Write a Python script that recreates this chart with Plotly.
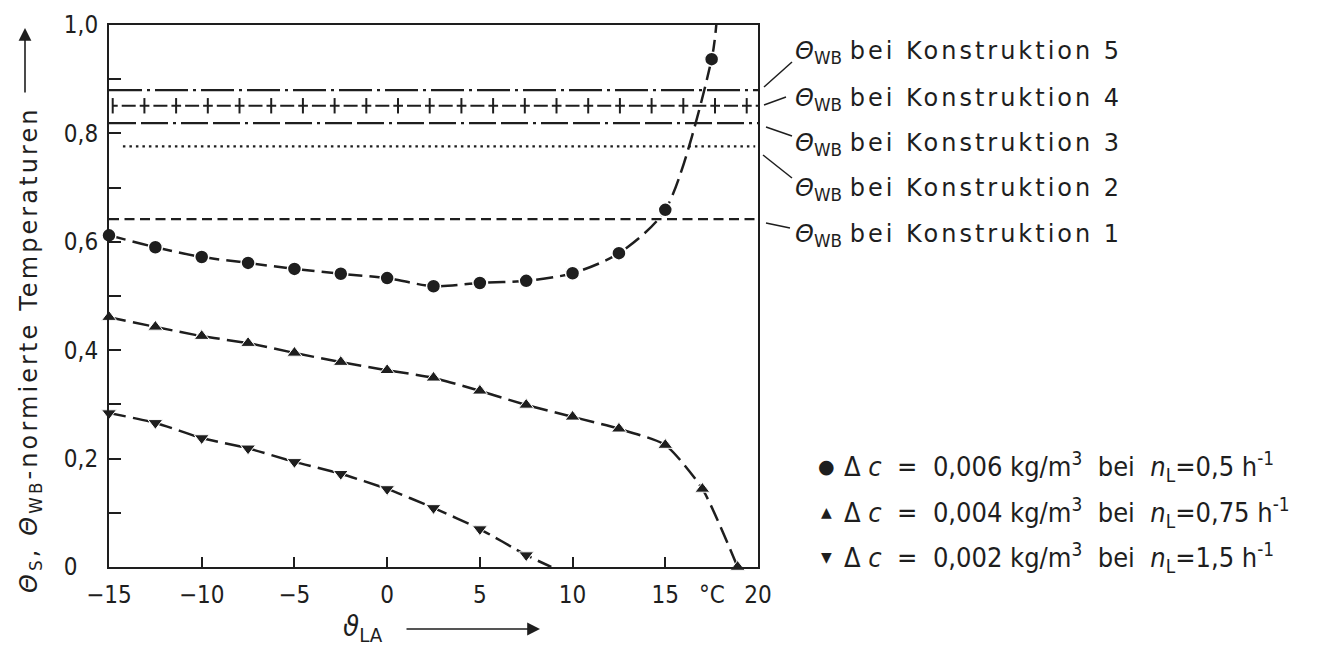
import numpy as np
import plotly.graph_objects as go

# ---------------- data ----------------
x_circ = [-15, -12.5, -10, -7.5, -5, -2.5, 0, 2.5, 5, 7.5, 10, 12.5, 15, 17.5]
y_circ = [0.612, 0.590, 0.572, 0.561, 0.550, 0.541, 0.533, 0.518, 0.524, 0.528, 0.542, 0.579, 0.659, 0.937]
x_circ_end = [17.75]
y_circ_end = [1.0]

x_up = [-15, -12.5, -10, -7.5, -5, -2.5, 0, 2.5, 5, 7.5, 10, 12.5, 15, 17, 18.9]
y_up = [0.461, 0.443, 0.426, 0.413, 0.395, 0.378, 0.363, 0.349, 0.325, 0.299, 0.277, 0.255, 0.225, 0.144, 0.0]

x_down = [-15, -12.5, -10, -7.5, -5, -2.5, 0, 2.5, 5, 7.5]
y_down = [0.284, 0.266, 0.238, 0.219, 0.194, 0.172, 0.144, 0.109, 0.070, 0.022]
x_down_end = [8.85]
y_down_end = [0.0]

k_names = ["1", "2", "3", "4", "5"]
k_levels = [0.642, 0.776, 0.819, 0.851, 0.880]
k_xstart = [-15, -14.25, -15, -14.8, -15]
k_xend = [20, 19.85, 20, 20, 20]

x_tickvals = [-15, -10, -5, 0, 5, 10, 15, 20]
x_ticktext = ["\u221215", "\u221210", "\u22125", "0", "5", "10", "15", "20"]
y_tickvals = [0, 0.1, 0.2, 0.3, 0.4, 0.5, 0.6, 0.7, 0.8, 0.9, 1.0]
y_ticktext = ["0\u2008\u2007", "", "0,2", "", "0,4", "", "0,6", "", "0,8", "", "1,0"]

legend_rows = [
    ("\u25CF", "\u0394 <i>c</i>  =  0,006 kg/m<sup>3</sup>  bei  <i>n</i><sub>L</sub>=0,5 h<sup>-1</sup>"),
    ("\u25B2", "\u0394 <i>c</i>  =  0,004 kg/m<sup>3</sup>  bei  <i>n</i><sub>L</sub>=0,75 h<sup>-1</sup>"),
    ("\u25BC", "\u0394 <i>c</i>  =  0,002 kg/m<sup>3</sup>  bei  <i>n</i><sub>L</sub>=1,5 h<sup>-1</sup>"),
]

# ---------------- layout geometry ----------------
W, H = 1335, 651
OFF = 8  # page body margin of the html page
L, R, T, B = 109, 758, 25, 567
INK = "#1e1e1e"
FONT = "DejaVu Sans Condensed, DejaVu Sans, Liberation Sans Narrow, sans-serif"
WIDE = "DejaVu Sans, sans-serif"


def px(xp):
    return (xp - L) / (R - L)


def py(yp):
    return (B - yp) / (B - T)


def spaced(s, ls):
    return '<span style="letter-spacing:%spx">%s</span>' % (ls, s)


fig = go.Figure()

# horizontal construction lines
k_dash = {
    "1": "10px,5.5px",
    "2": "2.5px,4px",
    "3": "27px,5px,27px,5px,3px,5px",
    "4": "5px,4px,14px,4px,4.7px,0px",
    "5": "33px,5px,3px,5px",
}
for name, lvl, xs, xe in zip(k_names, k_levels, k_xstart, k_xend):
    fig.add_trace(go.Scatter(
        x=[xs, xe], y=[lvl, lvl], mode="lines",
        line=dict(color=INK, width=2.2, dash=k_dash[name]),
        hoverinfo="skip", showlegend=False))
# plus marks on construction 4 line (part of the line style)
unit_px = (R - L) / (20 - (-15))
i4 = k_names.index("4")
plus_x = np.arange(k_xstart[i4], k_xend[i4] - 0.3, 31.7 / unit_px)
fig.add_trace(go.Scatter(
    x=plus_x, y=[k_levels[i4]] * len(plus_x), mode="markers",
    marker=dict(symbol="line-ns", size=11, line=dict(color=INK, width=2)),
    hoverinfo="skip", showlegend=False))

# curves
curve_dash = "17px,7px"
fig.add_trace(go.Scatter(
    x=x_circ + x_circ_end, y=y_circ + y_circ_end, mode="lines",
    line=dict(color=INK, width=2.5, dash=curve_dash, shape="spline", smoothing=0.8),
    hoverinfo="skip", showlegend=False))
fig.add_trace(go.Scatter(
    x=x_up, y=y_up, mode="lines",
    line=dict(color=INK, width=2.5, dash=curve_dash, shape="spline", smoothing=0.6),
    hoverinfo="skip", showlegend=False))
fig.add_trace(go.Scatter(
    x=x_down + x_down_end, y=y_down + y_down_end, mode="lines",
    line=dict(color=INK, width=2.5, dash=curve_dash, shape="spline", smoothing=0.6),
    hoverinfo="skip", showlegend=False))

fig.add_trace(go.Scatter(
    x=x_circ, y=y_circ, mode="markers", cliponaxis=False,
    marker=dict(symbol="circle", size=14, color=INK, line=dict(color="white", width=1.5)),
    showlegend=False))
fig.add_trace(go.Scatter(
    x=x_up, y=y_up, mode="markers", cliponaxis=False,
    marker=dict(symbol="triangle-up", size=13, color=INK, line=dict(color="white", width=1)),
    showlegend=False))
fig.add_trace(go.Scatter(
    x=x_down, y=y_down, mode="markers", cliponaxis=False,
    marker=dict(symbol="triangle-down", size=13, color=INK, line=dict(color="white", width=1)),
    showlegend=False))

annotations = []
shapes = []

# right-hand labels with leader lines
label_y = {"5": 52, "4": 99, "3": 144, "2": 189, "1": 236}
leaders = {
    "5": ((764, 87), (792, 62)),
    "4": ((764, 105), (786, 97)),
    "3": ((766, 127), (792, 136)),
    "2": ((763, 155), (792, 178)),
    "1": ((766, 223), (790, 228)),
}
for name in k_names:
    annotations.append(dict(
        xref="paper", yref="paper", x=px(793), y=py(label_y[name]),
        xanchor="left", yanchor="middle", showarrow=False,
        text="<i>\u0398</i><sub>WB</sub> " + spaced("bei Konstruktion " + name, 3.0),
        font=dict(size=24, color=INK, family=WIDE)))
    (x0, y0), (x1, y1) = leaders[name]
    shapes.append(dict(type="line", xref="paper", yref="paper",
                       x0=px(x0), y0=py(y0), x1=px(x1), y1=py(y1),
                       line=dict(color=INK, width=1.5)))

# marker legend rows
row_y = [466, 512, 557]
for (sym, txt), yy in zip(legend_rows, row_y):
    annotations.append(dict(
        xref="paper", yref="paper", x=px(826), y=py(yy),
        xanchor="center", yanchor="middle", showarrow=False,
        text=sym, font=dict(size=19 if sym == "\u25CF" else 14, color=INK, family="DejaVu Sans")))
    annotations.append(dict(
        xref="paper", yref="paper", x=px(842), y=py(yy),
        xanchor="left", yanchor="middle", showarrow=False,
        text=txt, font=dict(size=27, color=INK, family=FONT)))

# y-axis title + arrow
annotations.append(dict(
    xref="paper", yref="paper", x=px(30), y=py(350),
    xanchor="center", yanchor="middle", showarrow=False, textangle=-90,
    text=spaced("<i>\u0398</i><sub>S</sub>, <i>\u0398</i><sub>WB</sub>-normierte Temperaturen", 3.1),
    font=dict(size=24, color=INK, family=WIDE)))
annotations.append(dict(
    xref="paper", yref="paper", x=px(25), y=py(28), ax=0, ay=66,
    showarrow=True, arrowhead=2, arrowsize=1.6, arrowwidth=1.6, arrowcolor=INK, text=""))

# x-axis title + arrow
annotations.append(dict(
    xref="paper", yref="paper", x=px(363), y=py(628),
    xanchor="center", yanchor="middle", showarrow=False,
    text="<i>\u03D1</i><sub>LA</sub>",
    font=dict(size=29, color=INK, family=FONT)))
annotations.append(dict(
    xref="paper", yref="paper", x=px(540), y=py(629), ax=-135, ay=0,
    showarrow=True, arrowhead=2, arrowsize=1.6, arrowwidth=1.6, arrowcolor=INK, text=""))

# unit label between ticks
annotations.append(dict(
    xref="x", yref="paper", x=17.5, y=py(595),
    xanchor="center", yanchor="middle", showarrow=False,
    text="\u00B0C", font=dict(size=24, color=INK, family=FONT)))

fig.update_layout(
    width=W, height=H,
    margin=dict(l=L - OFF, r=W - R + OFF, t=T - OFF, b=H - B + OFF, pad=0, autoexpand=False),
    paper_bgcolor="white", plot_bgcolor="white",
    font=dict(family=FONT, size=24, color=INK),
    annotations=annotations, shapes=shapes,
    showlegend=False,
)
fig.update_xaxes(
    range=[-15, 20], tickvals=x_tickvals, ticktext=x_ticktext,
    ticks="inside", ticklen=10, tickwidth=1.5, tickcolor=INK,
    showline=True, linecolor=INK, linewidth=2, mirror=True,
    showgrid=False, zeroline=False, ticklabelstandoff=5,
    tickfont=dict(size=24, color=INK, family=FONT))
fig.update_yaxes(
    range=[0, 1], tickvals=y_tickvals, ticktext=y_ticktext,
    ticks="inside", ticklen=12, tickwidth=1.5, tickcolor=INK,
    showline=True, linecolor=INK, linewidth=2, mirror=True,
    showgrid=False, zeroline=False, ticklabelstandoff=4,
    tickfont=dict(size=24, color=INK, family=FONT))

fig.write_html("out.html")
